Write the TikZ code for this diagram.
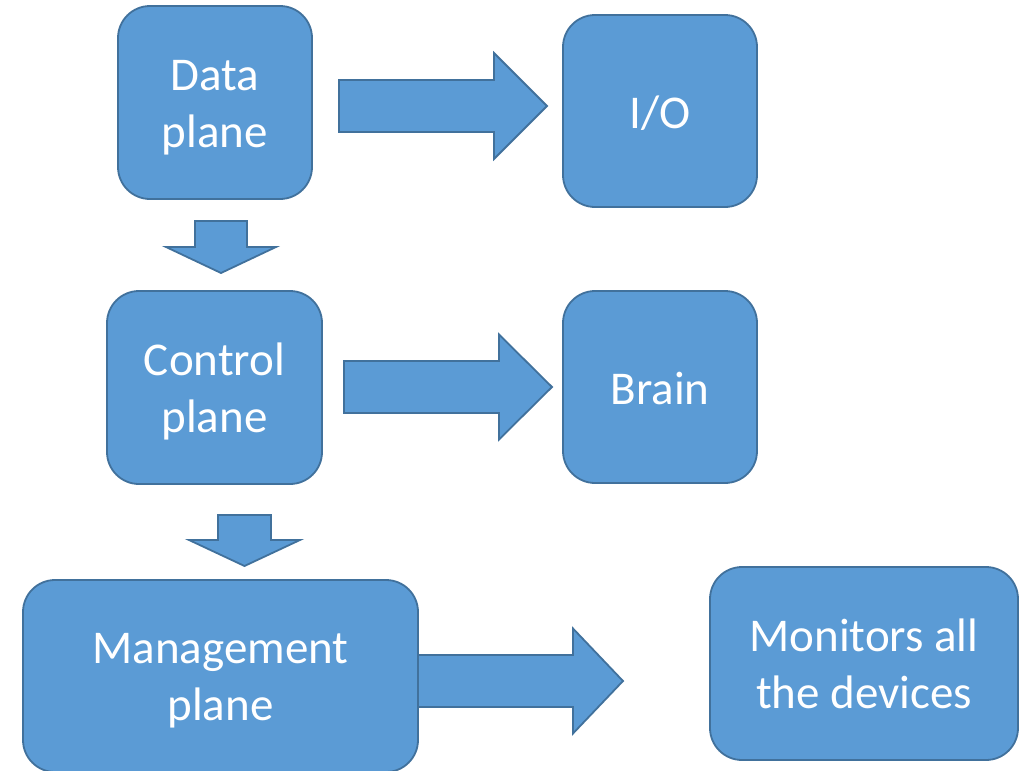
\documentclass[tikz,border=0pt]{standalone}
\usepackage{fontspec}
\setmainfont{Carlito}
\definecolor{boxfill}{HTML}{5B9BD5}
\definecolor{boxline}{HTML}{41719C}
\tikzset{
  box/.style={draw=boxline, fill=boxfill, line width=1.8pt, rounded corners=32pt,
    inner sep=0pt, text=white, font=\fontsize{47}{57}\selectfont, align=center},
  twoline/.style={box, text height=95pt, text depth=6pt},
  oneline/.style={box, text height=40pt, text depth=6pt},
  blk/.style={draw=boxline, fill=boxfill, line width=1.8pt, line join=miter},
}
% block arrow pointing right: x start, head base x, tip x, centre y, shaft half width, head half width
\newcommand{\drawrightblock}[6]{%
  \draw[blk] (#1,#4-#5) -- (#2,#4-#5) -- (#2,#4-#6) -- (#3,#4) -- (#2,#4+#6)
    -- (#2,#4+#5) -- (#1,#4+#5) -- cycle;}
% block arrow pointing down: centre x, start y, head base y, tip y, shaft half width, head half width
\newcommand{\drawdownblock}[6]{%
  \draw[blk] (#1-#5,#2) -- (#1+#5,#2) -- (#1+#5,#3) -- (#1+#6,#3) -- (#1,#4)
    -- (#1-#6,#3) -- (#1-#5,#3) -- cycle;}
\begin{document}
\begin{tikzpicture}[x=1pt,y=-1pt]
\useasboundingbox (0,0) rectangle (1020,771);

% planes
\node[twoline, minimum width=194pt, minimum height=193pt] (data) at (215,102.5) {Data\\plane};
\node[twoline, minimum width=215pt, minimum height=193pt] (control) at (214.5,387.5) {Control\\plane};
\node[twoline, minimum width=395pt, minimum height=192pt] (mgmt) at (220.5,676) {Management\\plane};

% roles
\node[oneline, minimum width=194pt, minimum height=192pt] (io) at (660,111) {I/O};
\node[oneline, minimum width=194pt, minimum height=192pt] (brain) at (660,387) {Brain};
\node[twoline, minimum width=308pt, minimum height=193pt] (monitor) at (864,663.5) {Monitors all\\the devices};

% block arrows
\drawrightblock{339}{494}{547}{106}{26}{53}
\drawrightblock{344}{499}{552}{387}{26}{52.5}
\drawrightblock{418}{573}{623}{681}{26}{52.5}
\drawdownblock{221}{221}{247}{273}{26}{55}
\drawdownblock{244.5}{515}{540}{566}{26.5}{55.5}
\end{tikzpicture}
\end{document}
